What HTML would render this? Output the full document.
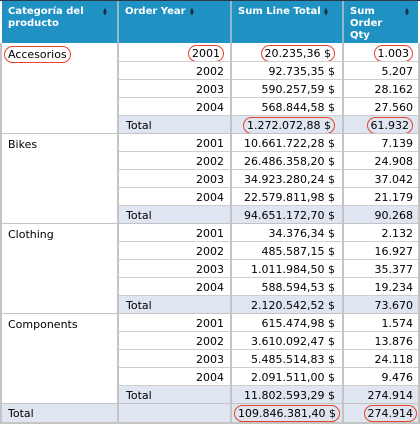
<!DOCTYPE html>
<html><head><meta charset="utf-8">
<style>
body{margin:0;background:#fff;width:420px;height:424px;overflow:hidden;font-family:"DejaVu Sans","Liberation Sans",sans-serif;font-size:11px;color:#000}
#t{position:relative;width:420px;height:424px}
.c{position:absolute;box-sizing:border-box;white-space:nowrap;line-height:17px}
.h{position:absolute;box-sizing:border-box;background:#1f92c3;color:#fff;font-weight:bold;font-size:10px;line-height:12px;padding:5px 6px;white-space:normal}
.sort{position:absolute;top:7px;font-size:5px;line-height:4px;color:#1a2a3a}
.oval{display:inline-block;border:1.5px solid #e5432a;border-radius:10px;padding:0 3px;line-height:15px}
</style></head><body>
<div id="t"></div>
<script>
const categories=["Accesorios","Bikes","Clothing","Components"];
const years=["2001","2002","2003","2004"];
const lineTotals=[["20.235,36 $","92.735,35 $","590.257,59 $","568.844,58 $","1.272.072,88 $"],
["10.661.722,28 $","26.486.358,20 $","34.923.280,24 $","22.579.811,98 $","94.651.172,70 $"],
["34.376,34 $","485.587,15 $","1.011.984,50 $","588.594,53 $","2.120.542,52 $"],
["615.474,98 $","3.610.092,47 $","5.485.514,83 $","2.091.511,00 $","11.802.593,29 $"]];
const qtys=[["1.003","5.207","28.162","27.560","61.932"],
["7.139","24.908","37.042","21.179","90.268"],
["2.132","16.927","35.377","19.234","73.670"],
["1.574","13.876","24.118","9.476","274.914"]];
const grandTotal=["109.846.381,40 $","274.914"];
const headers=["Categoría del producto","Order Year","Sum Line Total","Sum Order Qty"];
const ovals=new Set(["0-0-cat","0-0-year","0-0-sum","0-0-qty","0-4-sum","0-4-qty","g-sum","g-qty"]);
const t=document.getElementById('t');
const X=[2,117,230,342,418];
const H0=44,RH=18;
function box(x,y,w,h,css){const d=document.createElement('div');d.className='c';d.style.cssText=`left:${x}px;top:${y}px;width:${w}px;height:${h}px;`+(css||'');t.appendChild(d);return d;}
const hw=[[2,115],[119,111],[232,110],[344,74]];
const sortX=[101,71,92,61];
const widths=['90px','auto','auto','40px'];
headers.forEach((h,i)=>{const d=document.createElement('div');d.className='h';


d.style.cssText=`left:${hw[i][0]}px;top:1px;width:${hw[i][1]}px;height:42px;`;
const s=document.createElement('span');s.textContent=h;s.style.cssText='display:block;width:'+widths[i];d.appendChild(s);
const so=document.createElement('div');so.className='sort';so.innerHTML='▲<br>▼';
so.style.left=sortX[i]+'px';


d.appendChild(so);t.appendChild(d);});
[117,230,342].forEach(x=>box(x,1,2,42,'background:#8fb8cc'));
box(0,0,420,1,'background:#2a3a44');
function txt(d,s,key){if(ovals.has(key)){const sp=document.createElement('span');sp.className='oval';sp.textContent=s;
d.appendChild(sp);}else d.textContent=s;}
let y=H0;
categories.forEach((cat,ci)=>{
 const cd=box(X[0],y,X[1]-X[0],RH*5,'padding:2px 0 0 6px;');
 
 
 if(ovals.has(ci+'-0-cat')){cd.style.padding='2px 0 0 2px';}
 txt(cd,cat,ci+'-0-cat');
 for(let r=0;r<5;r++){
  const yy=y+r*RH,tot=r==4,bg=tot?'background:#dfe6f1;':'';
  const yd=box(X[1],yy,X[2]-X[1],RH,bg+(tot?'padding:1px 0 0 9px;':'text-align:right;padding:1px 6px 0 0;'));
  
  
  txt(yd,tot?'Total':years[r],ci+'-'+r+'-year');
  const sd=box(X[2],yy,X[3]-X[2],RH,bg+'text-align:right;padding:1px 7px 0 0;');
  
  
  txt(sd,lineTotals[ci][r],ci+'-'+r+'-sum');
  const qd=box(X[3],yy,X[4]-X[3],RH,bg+'text-align:right;padding:1px 5px 0 0;');
  
  
  txt(qd,qtys[ci][r],ci+'-'+r+'-qty');
  box(X[1],yy+RH-1,X[4]-X[1],1,'background:#cfcfcf');
 }
 y+=RH*5;
 box(0,y-1,420,1,'background:#c4c4c4');
});
const gl=box(X[0],y,X[1]-X[0],RH,'background:#dfe6f1;padding:1px 0 0 6px;');gl.textContent='Total';


box(X[1],y,X[2]-X[1],RH,'background:#dfe6f1;');
const gs=box(X[2],y,X[3]-X[2],RH,'background:#dfe6f1;text-align:right;padding:1px 2px 0 0;');txt(gs,grandTotal[0],'g-sum');


const gq=box(X[3],y,X[4]-X[3],RH,'background:#dfe6f1;text-align:right;padding:1px 1px 0 0;');txt(gq,grandTotal[1],'g-qty');


box(0,y+RH,420,2,'background:#c4c4c4');
[0,117,230,342,418].forEach(x=>box(x,43,2,y+RH-43,'background:#c4c4c4'));
</script>
</body></html>
